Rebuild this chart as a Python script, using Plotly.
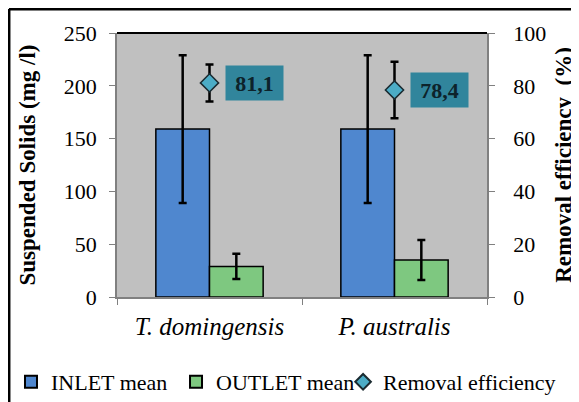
import plotly.graph_objects as go

categories = ["T. domingensis", "P. australis"]
inlet_mean = [159, 159]
inlet_err = [70, 70]
outlet_mean = [29, 35]
outlet_err = [12, 19]
removal_eff = [81.1, 78.4]
removal_err = [7, 10.7]
removal_labels = ["81,1", "78,4"]

SERIF = "Liberation Serif"

fig = go.Figure()
fig.add_trace(go.Bar(
    x=categories, y=inlet_mean, name="INLET mean", legend="legend",
    marker=dict(color="#4f87cf", line=dict(color="black", width=1.5)),
    error_y=dict(type="data", array=inlet_err, color="black", thickness=2.5, width=4),
))
fig.add_trace(go.Bar(
    x=categories, y=outlet_mean, name="OUTLET mean", legend="legend2",
    marker=dict(color="#7ec880", line=dict(color="black", width=1.5)),
    error_y=dict(type="data", array=outlet_err, color="black", thickness=2.5, width=4),
))
fig.add_trace(go.Scatter(
    x=categories, y=removal_eff, name="Removal efficiency", yaxis="y2", legend="legend3",
    mode="markers",
    marker=dict(symbol="diamond", size=14, color="#4bacc6", line=dict(color="#1a2a30", width=1.5)),
    error_y=dict(type="data", array=removal_err, color="black", thickness=2.5, width=4),
))

for cat, v, lab in zip(categories, removal_eff, removal_labels):
    fig.add_annotation(
        x=cat, y=v, xref="x", yref="y2", text="<b>" + lab + "</b>",
        showarrow=False, xshift=45, bgcolor="#31859c",
        width=55, height=32, borderpad=1,
        font=dict(family=SERIF, size=22, color="#0d232b"),
    )

# outer frame (top and left edges visible)
fig.add_shape(type="line", xref="paper", yref="paper", x0=-0.292, x1=1.3, y0=1.0909, y1=1.0909,
              line=dict(color="black", width=3))
fig.add_shape(type="line", xref="paper", yref="paper", x0=-0.292, x1=-0.292, y0=1.0909, y1=-0.5,
              line=dict(color="black", width=3))
# top border of plot area
fig.add_shape(type="line", xref="paper", yref="paper", x0=0, x1=1, y0=1, y1=1,
              line=dict(color="black", width=2))

legend_common = dict(
    orientation="h", xanchor="left", y=-0.322, yanchor="middle",
    font=dict(family=SERIF, size=22), bgcolor="rgba(0,0,0,0)", itemsizing="constant",
)

# the page adds an 8px body margin, so the figure is sized to fit inside the window
fig.update_layout(
    width=571, height=394,
    margin=dict(l=109, r=92, t=25, b=105, autoexpand=False),
    paper_bgcolor="white", plot_bgcolor="#c0c0c0",
    barmode="group", bargap=0.42, bargroupgap=0,
    font=dict(family=SERIF, color="black"),
    xaxis=dict(
        showline=True, linecolor="#808080", linewidth=1.5,
        ticks="outside", tickson="boundaries", ticklen=6, tickcolor="#808080",
        tickfont=dict(family=SERIF, size=25, style="italic"),
        ticklabelstandoff=6,
        showgrid=False, automargin=False,
    ),
    yaxis=dict(
        range=[0, 250], dtick=50, showline=True, linecolor="#808080", linewidth=1.5,
        ticks="outside", ticklen=6, tickcolor="#808080", showgrid=False, zeroline=False,
        tickfont=dict(family=SERIF, size=22), ticklabelstandoff=8,
        title=dict(text="<b>Suspended Solids (mg /l)</b>", font=dict(family=SERIF, size=23), standoff=22),
        automargin=False,
    ),
    yaxis2=dict(
        range=[0, 100], dtick=20, overlaying="y", side="right",
        showline=True, linecolor="#808080", linewidth=1.5,
        ticks="outside", ticklen=6, tickcolor="#808080", showgrid=False, zeroline=False,
        tickfont=dict(family=SERIF, size=22), ticklabelstandoff=14,
        title=dict(text="<b>Removal efficiency  (%)</b>", font=dict(family=SERIF, size=23), standoff=10),
        automargin=False,
    ),
    legend=dict(x=-0.2865, **legend_common),
    legend2=dict(x=0.1595, **legend_common),
    legend3=dict(x=0.611, **legend_common),
    showlegend=True,
)

fig.write_html("out.html", config={"displayModeBar": False})
